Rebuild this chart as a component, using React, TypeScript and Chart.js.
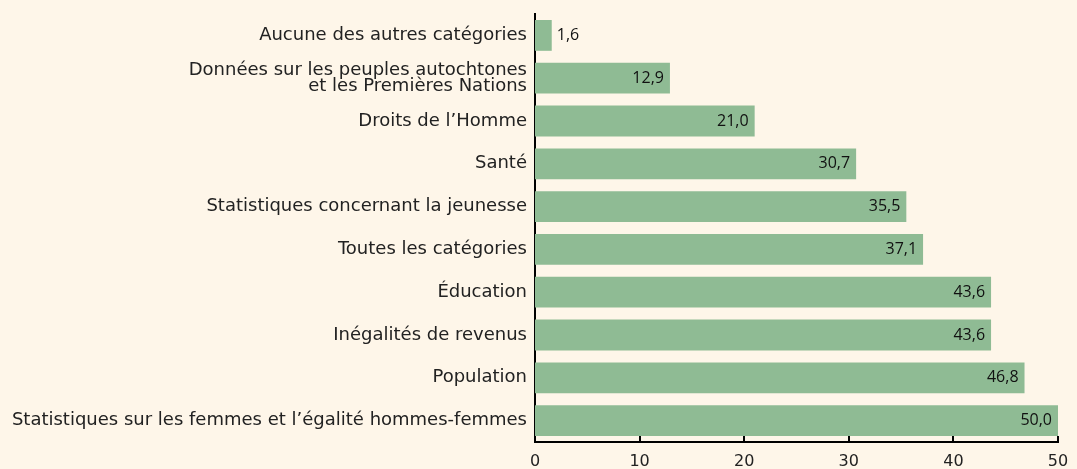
import { useEffect, useRef } from 'react';
import { Chart, registerables } from 'chart.js';

Chart.register(...registerables);

const categories: (string | string[])[] = [
  'Aucune des autres catégories',
  ['Données sur les peuples autochtones', 'et les Premières Nations'],
  'Droits de l’Homme',
  'Santé',
  'Statistiques concernant la jeunesse',
  'Toutes les catégories',
  'Éducation',
  'Inégalités de revenus',
  'Population',
  'Statistiques sur les femmes et l’égalité hommes-femmes',
];
const values = [1.6, 12.9, 21.0, 30.7, 35.5, 37.1, 43.6, 43.6, 46.8, 50.0];
const valueLabels = ['1,6', '12,9', '21,0', '30,7', '35,5', '37,1', '43,6', '43,6', '46,8', '50,0'];
const xTickValues = [0, 10, 20, 30, 40, 50];

const BG = '#FEF6E9';
const BAR = '#8FBB94';
const LABEL_FONT = '"DejaVu Sans", sans-serif';

export default function App() {
  const ref = useRef<HTMLCanvasElement | null>(null);

  useEffect(() => {
    document.body.style.margin = '0';
    const canvas = ref.current;
    if (!canvas) return;

    const decor = {
      id: 'decor',
      beforeDraw(chart: any) {
        const ctx = chart.ctx;
        ctx.save();
        ctx.fillStyle = BG;
        ctx.fillRect(0, 0, chart.width, chart.height);
        ctx.restore();
      },
      afterDatasetsDraw(chart: any) {
        const ctx = chart.ctx;
        const meta = chart.getDatasetMeta(0);
        ctx.save();
        ctx.font = '16px "Open Sans", sans-serif';
        ctx.fillStyle = '#111';
        ctx.textBaseline = 'middle';
        meta.data.forEach((bar: any, i: number) => {
          const txt = valueLabels[i];
          const w = ctx.measureText(txt).width;
          const barW = bar.x - bar.base;
          if (barW < w + 12) {
            ctx.textAlign = 'left';
            ctx.fillText(txt, bar.x + 5, bar.y);
          } else {
            ctx.textAlign = 'right';
            ctx.fillText(txt, bar.x - 6, bar.y);
          }
        });
        // inward tick marks on x axis
        const xs = chart.scales.x;
        const bottom = chart.chartArea.bottom;
        ctx.strokeStyle = '#000';
        ctx.lineWidth = 2;
        xTickValues.forEach((v) => {
          const px = Math.round(xs.getPixelForValue(v));
          ctx.beginPath();
          ctx.moveTo(px, bottom - 6);
          ctx.lineTo(px, bottom);
          ctx.stroke();
        });
        ctx.restore();
      },
    };

    const chart = new Chart(canvas, {
      type: 'bar',
      data: {
        labels: categories,
        datasets: [
          {
            data: values,
            backgroundColor: BAR,
            borderWidth: 0,
            barPercentage: 0.72,
            categoryPercentage: 1,
          },
        ],
      },
      options: {
        indexAxis: 'y',
        animation: false,
        responsive: false,
        maintainAspectRatio: false,
        layout: { padding: { top: 14, right: 19, bottom: 0, left: 0 } },
        plugins: {
          legend: { display: false },
          tooltip: { enabled: false },
        },
        scales: {
          x: {
            min: 0,
            max: 50,
            afterBuildTicks: (scale: any) => {
              scale.ticks = xTickValues.map((v) => ({ value: v }));
            },
            grid: { display: false, drawTicks: false },
            border: { display: true, color: '#000', width: 2 },
            ticks: {
              color: '#222',
              font: { family: LABEL_FONT, size: 16 },
              padding: 10,
              maxRotation: 0,
            },
            afterFit: (scale: any) => {
              scale.height = 27;
              scale.paddingLeft = 0;
              scale.paddingRight = 0;
            },
          },
          y: {
            grid: { display: false, drawTicks: false },
            border: { display: true, color: '#000', width: 2 },
            ticks: {
              color: '#222',
              font: { family: LABEL_FONT, size: 18, lineHeight: 0.92 },
              padding: 8,
            },
            afterFit: (scale: any) => {
              scale.width = 535;
              scale.paddingTop = 0;
              scale.paddingBottom = 0;
            },
          },
        },
      },
      plugins: [decor],
    });

    return () => chart.destroy();
  }, []);

  return (
    <div style={{ width: 1077, height: 469, background: BG }}>
      <canvas ref={ref} width={1077} height={469} style={{ display: 'block' }} />
    </div>
  );
}
